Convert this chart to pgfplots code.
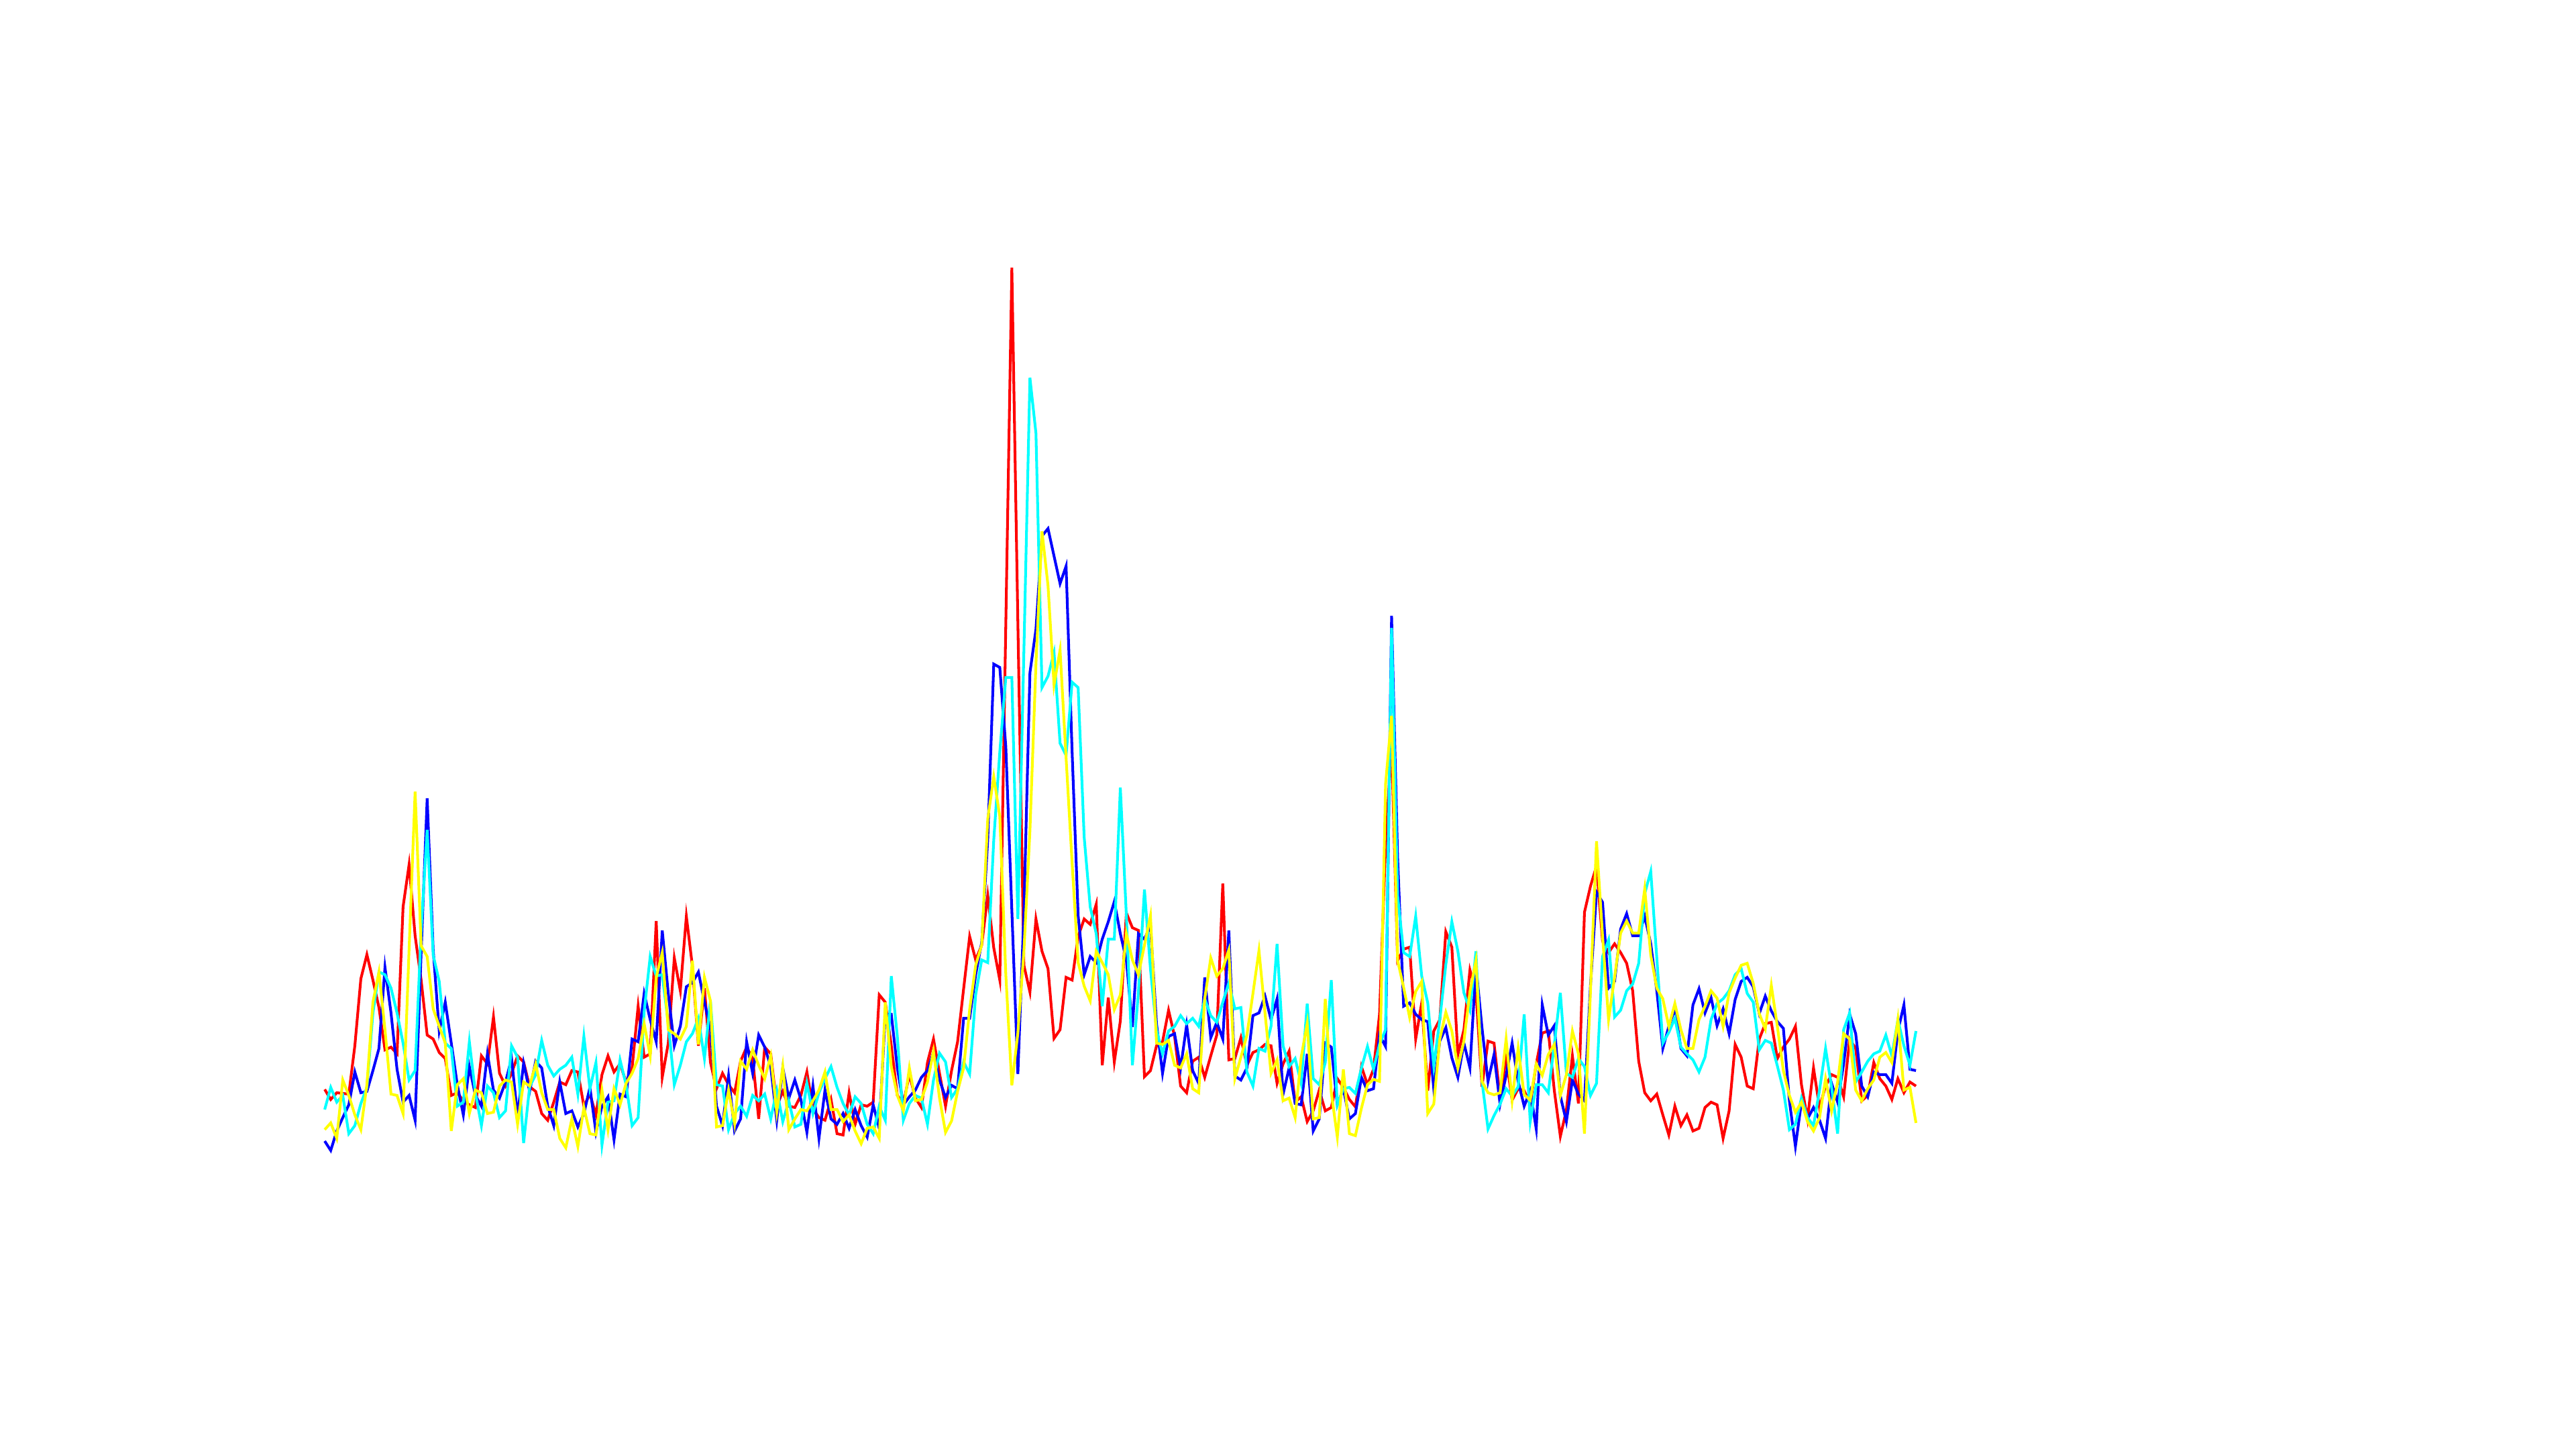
\documentclass[border=0pt]{standalone}
\usepackage{pgfplots}
\usepackage{pgfplotstable}
\pgfplotsset{compat=1.18}
\definecolor{mred}{rgb}{1,0,0}
\definecolor{mblue}{rgb}{0,0,1}
\definecolor{mcyan}{rgb}{0,1,1}
\definecolor{myellow}{rgb}{1,1,0}
\pgfplotstableread{
i r b c y
0 536 459 506 476
1 521 445 539 486
2 531 474 517 463
3 530 494 527 550
4 529 513 470 527
5 601 562 482 498
6 701 531 515 476
7 737 533 539 543
8 699 564 650 666
9 658 597 711 711
10 595 718 707 625
11 599 650 687 529
12 589 566 650 527
13 808 517 605 500
14 871 527 550 745
15 765 490 564 980
16 699 740 773 750
17 617 970 923 734
18 611 744 736 656
19 591 623 697 630
20 582 666 605 605
21 527 605 597 474
22 531 543 511 543
23 519 498 517 552
24 513 570 607 500
25 509 527 531 535
26 586 511 482 531
27 574 589 541 500
28 644 535 531 502
29 560 523 494 541
30 541 547 504 550
31 560 582 601 547
32 586 496 584 484
33 577 575 456 547
34 540 533 540 541
35 533 578 558 574
36 500 568 609 531
37 490 511 572 506
38 517 482 556 506
39 547 547 566 463
40 543 500 572 449
41 564 504 584 492
42 562 480 529 451
43 511 500 615 509
44 529 539 537 470
45 498 472 576 468
46 558 511 453 535
47 586 525 517 476
48 562 461 519 537
49 574 529 580 513
50 547 525 543 545
51 568 611 482 560
52 660 607 494 582
53 584 679 652 634
54 589 640 734 586
55 787 607 705 703
56 554 773 707 740
57 605 679 634 625
58 732 601 543 619
59 683 630 572 611
60 794 689 607 630
61 720 695 619 728
62 601 711 642 603
63 687 666 582 703
64 576 627 668 668
65 537 511 543 480
66 560 482 541 482
67 543 556 476 535
68 531 474 500 485
69 578 492 511 578
70 599 607 496 566
71 582 560 527 595
72 492 617 519 572
73 599 599 529 552
74 589 570 492 586
75 511 490 535 502
76 533 568 488 570
77 511 523 519 476
78 509 550 480 492
79 527 521 484 506
80 562 472 545 504
81 507 541 500 519
82 494 463 531 535
83 490 535 552 562
84 521 492 570 506
85 470 484 539 506
86 468 500 515 488
87 531 478 498 498
88 484 506 525 474
89 513 482 515 455
90 511 465 484 478
91 517 513 470 480
92 677 478 511 463
93 666 648 490 666
94 601 648 705 570
95 527 568 615 527
96 515 513 490 504
97 558 525 515 568
98 523 535 527 519
99 509 554 523 521
100 576 564 484 547
101 611 591 550 593
102 560 550 590 523
103 511 524 577 472
104 564 542 524 489
105 607 537 537 533
106 686 642 577 568
107 764 642 559 655
108 729 707 677 721
109 751 755 729 751
110 825 908 725 939
111 747 1170 908 1002
112 699 1165 1039 943
113 1230 1047 1150 707
114 1761 803 1150 542
115 1231 559 790 620
116 721 799 1190 742
117 681 1157 1597 921
118 790 1222 1514 1170
119 742 1361 1135 1368
120 716 1372 1152 1287
121 612 1331 1187 1139
122 625 1290 1052 1191
123 703 1316 1034 1030
124 699 1039 1143 873
125 764 795 1135 725
126 790 707 912 690
127 782 734 808 668
128 812 725 768 742
129 572 760 660 725
130 673 786 760 707
131 577 816 760 655
132 638 768 986 677
133 799 729 795 768
134 777 629 572 729
135 773 768 681 707
136 555 760 834 751
137 564 780 715 795
138 601 634 625 605
139 607 560 589 603
140 654 615 623 609
141 615 619 630 572
142 541 568 646 568
143 531 632 634 589
144 578 564 642 537
145 584 545 630 531
146 554 703 671 671
147 586 613 646 732
148 617 636 636 705
149 843 611 666 716
150 580 773 695 744
151 582 556 656 552
152 613 550 658 584
153 572 568 562 617
154 591 646 541 679
155 595 650 597 743
156 603 675 593 650
157 601 640 630 560
158 545 671 753 580
159 574 529 601 519
160 593 568 570 523
161 517 515 582 494
162 525 513 545 584
163 488 589 664 634
164 504 474 552 492
165 535 492 543 494
166 504 605 576 671
167 509 599 699 531
168 552 513 513 465
169 539 537 537 566
170 521 492 539 470
171 510 500 530 467
172 570 554 568 508
173 543 534 600 543
174 566 537 566 551
175 648 617 603 548
176 900 600 625 991
177 1050 1242 1224 1093
178 728 882 825 728
179 745 660 740 688
180 748 665 734 643
181 611 648 794 682
182 665 640 705 697
183 534 637 665 500
184 623 537 571 514
185 640 608 640 611
186 771 628 722 651
187 748 583 786 623
188 588 554 742 568
189 625 605 680 608
190 714 568 654 682
191 682 720 742 728
192 540 628 548 548
193 608 548 477 531
194 605 588 497 528
195 523 514 514 531
196 583 557 537 611
197 520 605 526 520
198 537 548 540 597
199 534 511 648 528
200 514 534 488 520
201 574 477 543 574
202 620 662 543 557
203 623 617 531 588
204 534 631 603 603
205 466 526 680 527
206 505 488 560 558
207 586 550 554 623
208 515 529 582 589
209 800 519 570 470
210 839 691 527 683
211 869 830 545 906
212 757 815 734 765
213 740 687 759 640
214 753 697 644 703
215 740 775 654 769
216 724 798 683 787
217 683 765 693 769
218 578 765 724 769
219 531 794 828 835
220 519 753 861 736
221 529 683 732 687
222 498 597 605 671
223 468 630 621 630
224 511 656 642 664
225 482 597 599 625
226 498 586 589 597
227 474 662 580 597
228 478 686 562 640
229 509 650 584 660
230 517 673 640 683
231 513 631 664 672
232 463 656 671 630
233 504 619 683 680
234 603 670 707 702
235 584 697 716 721
236 541 703 679 724
237 537 689 666 694
238 611 649 595 649
239 634 675 609 626
240 636 653 605 691
241 582 637 571 630
242 599 627 535 564
243 611 519 476 527
244 630 451 484 502
245 543 517 523 517
246 492 492 494 488
247 568 509 482 474
248 509 490 535 494
249 541 463 597 552
250 558 545 539 504
251 554 517 470 547
252 525 574 625 619
253 611 648 650 611
254 597 619 547 535
255 519 541 562 519
256 527 525 578 537
257 576 562 589 550
258 552 558 593 584
259 541 558 617 591
260 521 545 586 576
261 552 623 640 640
262 531 662 601 535
263 547 566 572 539
264 541 564 623 486
}\datatable
\begin{document}
\begin{tikzpicture}
\begin{axis}[
  scale only axis,
  width=16cm, height=9cm,
  xmin=-53.87, xmax=373.51,
  ymin=0, ymax=2160,
  axis lines=box,
  axis line style={draw=none},
  xtick=\empty, ytick=\empty,
  clip=false,
]
\addplot[mred, line width=0.48pt, mark=none] table[x=i, y=r] {\datatable};
\addplot[mblue, line width=0.48pt, mark=none] table[x=i, y=b] {\datatable};
\addplot[mcyan, line width=0.48pt, mark=none] table[x=i, y=c] {\datatable};
\addplot[myellow, line width=0.48pt, mark=none] table[x=i, y=y] {\datatable};
\end{axis}
\end{tikzpicture}
\end{document}
